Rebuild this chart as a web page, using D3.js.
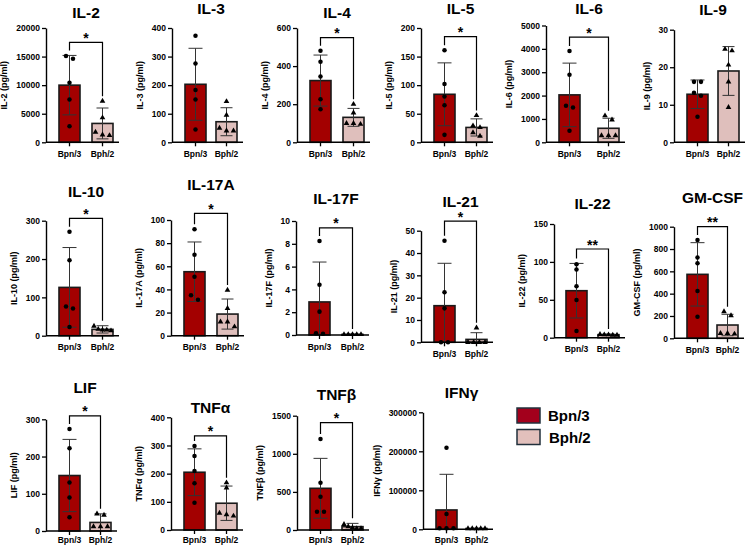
<!DOCTYPE html>
<html>
<head>
<meta charset="utf-8">
<script src="https://cdn.jsdelivr.net/npm/d3@7"></script>
<style>
  body { margin: 0; background: #fff; }
  svg { font-family: "Liberation Sans", Arial, sans-serif; }
</style>
</head>
<body>
<div id="chart"></div>
<script>
const groups = ["Bpn/3", "Bph/2"];
const cytokines = ["IL-2", "IL-3", "IL-4", "IL-5", "IL-6", "IL-9",
  "IL-10", "IL-17A", "IL-17F", "IL-21", "IL-22", "GM-CSF",
  "LIF", "TNFα", "TNFβ", "IFNγ"];

const yMax = [20000, 400, 600, 200, 5000, 30, 300, 100, 10, 50, 150, 1000, 300, 400, 1500, 300000];
const yTicks = [
  [0, 5000, 10000, 15000, 20000],
  [0, 100, 200, 300, 400],
  [0, 200, 400, 600],
  [0, 50, 100, 150, 200],
  [0, 1000, 2000, 3000, 4000, 5000],
  [0, 10, 20, 30],
  [0, 100, 200, 300],
  [0, 20, 40, 60, 80, 100],
  [0, 2, 4, 6, 8, 10],
  [0, 10, 20, 30, 40, 50],
  [0, 50, 100, 150],
  [0, 200, 400, 600, 800, 1000],
  [0, 100, 200, 300],
  [0, 100, 200, 300, 400],
  [0, 500, 1000, 1500],
  [0, 100000, 200000, 300000]
];

// bar heights (mean) and SD
const bpnMean = [10000, 203, 324, 84, 2030, 12.8, 126, 55.3, 2.9, 16.4, 62, 573, 149, 205, 547, 49600];
const bpnSD = [5200, 126, 134, 55, 1360, 3.8, 104, 25.7, 3.5, 19, 36, 284, 97, 83, 393, 91400];
const bphMean = [3300, 72, 131, 26, 600, 19.0, 16.5, 18.7, 0.05, 1.3, 4, 119, 23, 95, 44, 2000];
const bphSD = [2700, 49, 47, 15, 430, 6.5, 9.5, 13, 0.03, 3, 0.8, 96, 23, 61, 43, 500];

const bpnPoints = [
  [15100, 14600, 10400, 7500, 2800],
  [373, 276, 183, 150, 45],
  [481, 423, 345, 226, 173],
  [161, 102, 80, 65, 13],
  [3910, 2890, 1560, 1490, 490],
  [16.1, 16.1, 13.2, 12.4, 6.8],
  [271, 197, 76, 71, 23],
  [92, 70, 51, 35, 31],
  [8.25, 4.4, 2.05, 0.15, 0.1],
  [45.5, 22.4, 15.2, 0, 0],
  [96.8, 90, 68, 49.7, 8.8],
  [880, 725, 672, 424, 194],
  [274, 222, 130, 90, 37],
  [298, 263, 209, 166, 97],
  [1194, 621, 437, 240, 240],
  [209400, 39300, 2500, 2500, 2500]
];
const bphPoints = [
  [7200, 4300, 1800, 1300, 1200],
  [143, 95, 50, 40, 40],
  [200, 155, 100, 100, 95],
  [47, 29, 26, 17, 11],
  [1140, 960, 290, 290, 290],
  [24.8, 24.4, 20.6, 16.1, 9.3],
  [25, 17, 15, 15, 13],
  [39.5, 23.6, 12, 12, 7.8],
  [0.05, 0.05, 0.05, 0.05, 0.05],
  [6.5, 0, 0, 0, 0],
  [4.5, 4, 3.5, 3.5, 4],
  [239, 203, 45, 39, 45],
  [46, 43, 12, 12, 12],
  [168, 150, 60, 55, 50],
  [75, 45, 30, 20, 20],
  [2000, 2000, 2000, 2000, 2000]
];

const sigLabels = ["*", "", "*", "*", "*", "", "*", "*", "*", "*", "**", "**", "*", "*", "*", ""];
const sigLevel = [17500, null, 550, 185, 4500, null, 306, 105.8, 9.4, 54.3, 117, 1000, 309, 334, 1408, null];

// panel placement on the page
const layout = [
  { ax: 46, b1: 59, b2: 92, top: 28, zero: 142.3, ty: 17.5 },
  { ax: 172, b1: 185, b2: 216, top: 28, zero: 142.3, ty: 13.5 },
  { ax: 297, b1: 310, b2: 343, top: 28, zero: 142.3, ty: 17.5 },
  { ax: 421, b1: 434, b2: 466, top: 28, zero: 142.3, ty: 13.5 },
  { ax: 546, b1: 559, b2: 598, top: 25.5, zero: 142.3, ty: 13.5 },
  { ax: 674, b1: 687, b2: 718, top: 29.7, zero: 142.3, ty: 15 },
  { ax: 46, b1: 59, b2: 92, top: 220.7, zero: 335.7, ty: 197 },
  { ax: 171, b1: 184, b2: 217, top: 220, zero: 335.7, ty: 190 },
  { ax: 296, b1: 309, b2: 342, top: 221, zero: 335, ty: 203.5 },
  { ax: 421, b1: 434, b2: 466, top: 230.7, zero: 342.3, ty: 206.7 },
  { ax: 554, b1: 566, b2: 598, top: 224, zero: 337.7, ty: 209 },
  { ax: 674, b1: 687, b2: 717, top: 226.7, zero: 338.3, ty: 203 },
  { ax: 46, b1: 59, b2: 90, top: 419.3, zero: 531, ty: 393 },
  { ax: 171, b1: 184, b2: 216, top: 417.3, zero: 530, ty: 412.7 },
  { ax: 297, b1: 310, b2: 342, top: 415.7, zero: 530, ty: 400 },
  { ax: 423, b1: 436, b2: 466, top: 412.3, zero: 529.3, ty: 398 }
];

const barW = 21;
const fills = ["#a30000", "#dfbfbc"];

const width = 751, height = 546;
const svg = d3.select("#chart").append("svg")
  .attr("width", width)
  .attr("height", height);

// spread points that overlap vertically (like Prism scatter)
function swarm(vals, y) {
  const pts = vals.map(v => ({ v, py: y(v) })).sort((a, b) => a.py - b.py);
  const clusters = [];
  pts.forEach(p => {
    const last = clusters[clusters.length - 1];
    if (last && p.py - last[last.length - 1].py < 5) last.push(p);
    else clusters.push([p]);
  });
  clusters.forEach(c => {
    const step = c.length > 1 ? Math.min(7, 17 / (c.length - 1)) : 0;
    c.forEach((p, i) => { p.dx = (i - (c.length - 1) / 2) * step; });
  });
  return pts;
}

cytokines.forEach((name, i) => {
  const L = layout[i];
  const g = svg.append("g");

  const x = d3.scaleBand()
    .domain(groups)
    .range([L.b1, L.b2 + barW])
    .paddingInner(1 - barW / (L.b2 - L.b1));

  const y = d3.scaleLinear()
    .domain([0, yMax[i]])
    .range([L.zero, L.top]);

  const means = [bpnMean[i], bphMean[i]];
  const sds = [bpnSD[i], bphSD[i]];
  const points = [bpnPoints[i], bphPoints[i]];

  // title
  g.append("text")
    .attr("x", (L.b1 + L.b2 + barW) / 2)
    .attr("y", L.ty)
    .attr("text-anchor", "middle")
    .style("font-size", "15.5px")
    .style("font-weight", "bold")
    .text(name);

  // bars
  g.selectAll("rect.bar")
    .data(groups)
    .enter()
    .append("rect")
    .attr("class", "bar")
    .attr("x", d => x(d))
    .attr("y", (d, j) => y(means[j]))
    .attr("width", x.bandwidth())
    .attr("height", (d, j) => L.zero - y(means[j]))
    .attr("fill", (d, j) => fills[j])
    .attr("stroke", "#1a1a1a")
    .attr("stroke-width", 1.6);

  // error bars + points
  groups.forEach((gr, j) => {
    const cx = x(gr) + x.bandwidth() / 2;
    const hi = y(means[j] + sds[j]);
    const lo = y(Math.max(0, means[j] - sds[j]));
    const cap = j === 0 ? 7 : 6;
    g.append("line")
      .attr("x1", cx).attr("x2", cx)
      .attr("y1", hi).attr("y2", lo)
      .attr("stroke", "#333").attr("stroke-width", 1);
    g.append("line")
      .attr("x1", cx - cap).attr("x2", cx + cap)
      .attr("y1", hi).attr("y2", hi)
      .attr("stroke", "#333").attr("stroke-width", 1);
    if (means[j] - sds[j] > 0) {
      g.append("line")
        .attr("x1", cx - cap).attr("x2", cx + cap)
        .attr("y1", lo).attr("y2", lo)
        .attr("stroke", "#333").attr("stroke-width", 1);
    }

    const pts = swarm(points[j], y);
    const sym = d3.symbol().type(j === 0 ? d3.symbolCircle : d3.symbolTriangle).size(j === 0 ? 16 : 14);
    g.selectAll(null)
      .data(pts)
      .enter()
      .append("path")
      .attr("d", sym)
      .attr("transform", p => `translate(${cx + p.dx},${p.py})`)
      .attr("fill", "#000");
  });

  // y axis
  const yAxis = g.append("g")
    .attr("transform", `translate(${L.ax},0)`)
    .call(d3.axisLeft(y).tickValues(yTicks[i]).tickFormat(d3.format("d"))
      .tickSize(4).tickSizeOuter(0).tickPadding(2));
  yAxis.select(".domain").attr("stroke", "#000").attr("stroke-width", 1.4);
  yAxis.selectAll(".tick line").attr("stroke", "#000").attr("stroke-width", 1.3);
  yAxis.selectAll(".tick text")
    .attr("fill", "#000")
    .style("font-size", "8.5px")
    .style("font-weight", "bold")
    .style("font-family", "'Liberation Sans', Arial, sans-serif");

  const bb = yAxis.node().getBBox();
  g.append("text")
    .attr("transform", `translate(${L.ax + bb.x - 9},${(L.top + L.zero) / 2}) rotate(-90)`)
    .attr("text-anchor", "middle")
    .style("font-size", "9px")
    .style("font-weight", "bold")
    .text(name + " (pg/ml)");

  // x axis
  g.append("line")
    .attr("x1", L.ax).attr("x2", L.b2 + barW + 6)
    .attr("y1", L.zero).attr("y2", L.zero)
    .attr("stroke", "#000").attr("stroke-width", 1.4);
  groups.forEach(gr => {
    const cx = x(gr) + x.bandwidth() / 2;
    g.append("line")
      .attr("x1", cx).attr("x2", cx)
      .attr("y1", L.zero).attr("y2", L.zero + 4)
      .attr("stroke", "#000").attr("stroke-width", 1.3);
    g.append("text")
      .attr("x", cx)
      .attr("y", Math.min(L.zero + 14.5, 543))
      .attr("text-anchor", "middle")
      .style("font-size", "8.5px")
      .style("font-weight", "bold")
      .text(gr);
  });

  // significance bracket
  if (sigLabels[i]) {
    const by = y(sigLevel[i]);
    const c0 = x(groups[0]) + x.bandwidth() / 2;
    const c1 = x(groups[1]) + x.bandwidth() / 2;
    const end0 = y(Math.max(d3.max(points[0]), means[0] + sds[0])) - 5;
    const end1 = y(Math.max(d3.max(points[1]), means[1] + sds[1])) - 5;
    g.append("path")
      .attr("d", `M${c0},${end0}V${by}H${c1}V${end1}`)
      .attr("fill", "none")
      .attr("stroke", "#000")
      .attr("stroke-width", 1.2);
    g.append("text")
      .attr("x", (c0 + c1) / 2)
      .attr("y", by + 0.5)
      .attr("text-anchor", "middle")
      .style("font-size", "14px")
      .style("font-weight", "bold")
      .text(sigLabels[i]);
  }
});

// legend
const legendFills = ["#a3001c", "#e2c0bc"];
const legend = svg.append("g").attr("transform", "translate(517,408)");
groups.forEach((gr, j) => {
  const lg = legend.append("g").attr("transform", `translate(0,${j * 21.5})`);
  lg.append("rect")
    .attr("width", 23)
    .attr("height", 15)
    .attr("fill", legendFills[j])
    .attr("stroke", "#22303c")
    .attr("stroke-width", 1.5);
  lg.append("text")
    .attr("x", 31 + j)
    .attr("y", 13)
    .style("font-size", "15px")
    .style("font-weight", "bold")
    .text(gr);
});
</script>
</body>
</html>
